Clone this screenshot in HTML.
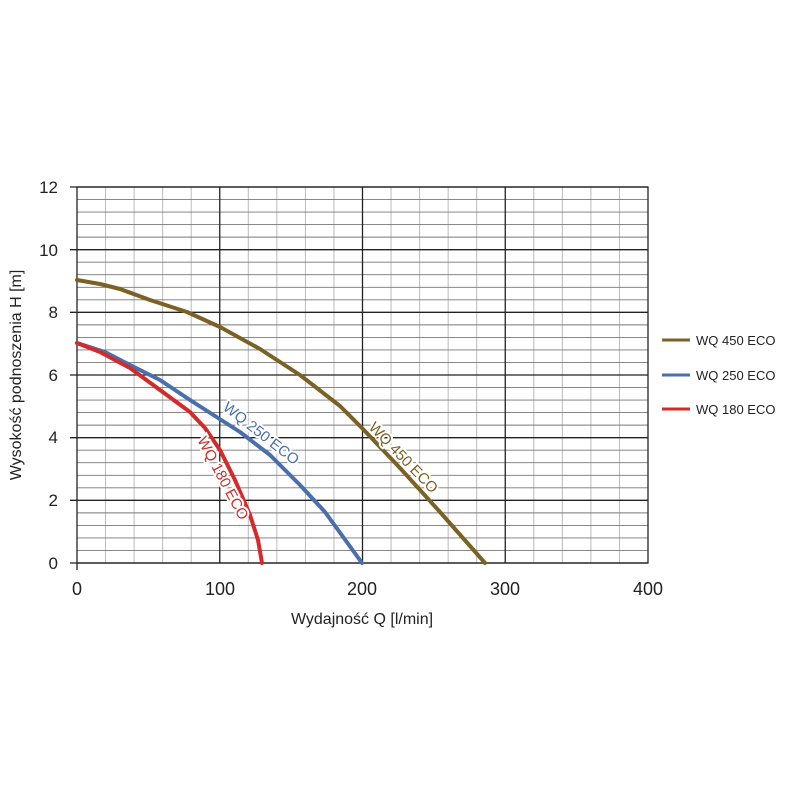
<!DOCTYPE html><html><head><style>body{margin:0;background:#fff}</style></head><body>
<svg width="800" height="800" xmlns="http://www.w3.org/2000/svg" font-family="Liberation Sans, sans-serif">
<rect width="800" height="800" fill="#fff"/>
<path fill="none" stroke="#bbb" stroke-width="1" d="M105.55 187V563M134.1 187V563M162.65 187V563M191.2 187V563M248.3 187V563M276.85 187V563M305.4 187V563M333.95 187V563M391.05 187V563M419.6 187V563M448.15 187V563M476.7 187V563M533.8 187V563M562.35 187V563M590.9 187V563M619.45 187V563"/>
<path fill="none" stroke="#777" stroke-width="0.9" d="M77 550.47H648M77 537.93H648M77 525.4H648M77 512.87H648M77 487.8H648M77 475.27H648M77 462.73H648M77 450.2H648M77 425.13H648M77 412.6H648M77 400.07H648M77 387.53H648M77 362.47H648M77 349.93H648M77 337.4H648M77 324.87H648M77 299.8H648M77 287.27H648M77 274.73H648M77 262.2H648M77 237.13H648M77 224.6H648M77 212.07H648M77 199.53H648"/>
<path fill="none" stroke="#222" stroke-width="1.3" d="M219.75 187V563M362.5 187V563M505.25 187V563M70 500.33H648M70 437.67H648M70 375H648M70 312.33H648M70 249.67H648M70 187H648M70 563H648M77 563V570"/>
<rect x="77" y="187" width="571" height="376" fill="none" stroke="#222" stroke-width="1.3"/>
<g fill="none" stroke-width="4" stroke-linejoin="round" stroke-linecap="round">
<polyline stroke="#7b6124" points="77,280 100,284 120,289 150,300 187,312 220,327 260,349 300,375 340,406 362,428 400,468 440,512 485,563"/>
<polyline stroke="#4a6fad" points="77,343 105,352 130,365 160,380 190,400 215,416 240,432 270,455 300,485 325,512 362,563"/>
<polyline stroke="#d42a2a" points="77,343 100,352 130,368 160,390 190,412 205,428 220,450 235,480 250,515 258,540 262,563"/>
</g>
<g font-size="15" stroke="#fff" stroke-width="4" paint-order="stroke">
<text x="222" y="409" fill="#4a6fad" transform="rotate(38 222 409)">WQ 250 ECO</text>
<text x="368" y="428" fill="#7b6124" transform="rotate(46 368 428)">WQ 450 ECO</text>
<text x="197" y="440" fill="#d42a2a" transform="rotate(62 197 440)">WQ 180 ECO</text>
</g>
<g font-size="17" fill="#222" text-anchor="end">
<text x="58" y="193">12</text><text x="58" y="256">10</text><text x="58" y="318">8</text><text x="58" y="381">6</text><text x="58" y="443">4</text><text x="58" y="506">2</text><text x="58" y="569">0</text>
</g>
<g font-size="18" fill="#222" text-anchor="middle">
<text x="77" y="595">0</text><text x="220" y="595">100</text><text x="362" y="595">200</text><text x="505" y="595">300</text><text x="648" y="595">400</text>
</g>
<text x="362" y="624" font-size="16" fill="#222" text-anchor="middle">Wydajność Q [l/min]</text>
<text x="21" y="375" font-size="16" fill="#222" text-anchor="middle" transform="rotate(-90 21 375)">Wysokość podnoszenia H [m]</text>
<g stroke-width="3">
<line x1="662" y1="340" x2="690" y2="340" stroke="#7b6124"/>
<line x1="662" y1="375" x2="690" y2="375" stroke="#4a6fad"/>
<line x1="662" y1="409" x2="690" y2="409" stroke="#d42a2a"/>
</g>
<g font-size="13" fill="#222">
<text x="696" y="345">WQ 450 ECO</text><text x="696" y="380">WQ 250 ECO</text><text x="696" y="414">WQ 180 ECO</text>
</g>
</svg>
</body></html>
